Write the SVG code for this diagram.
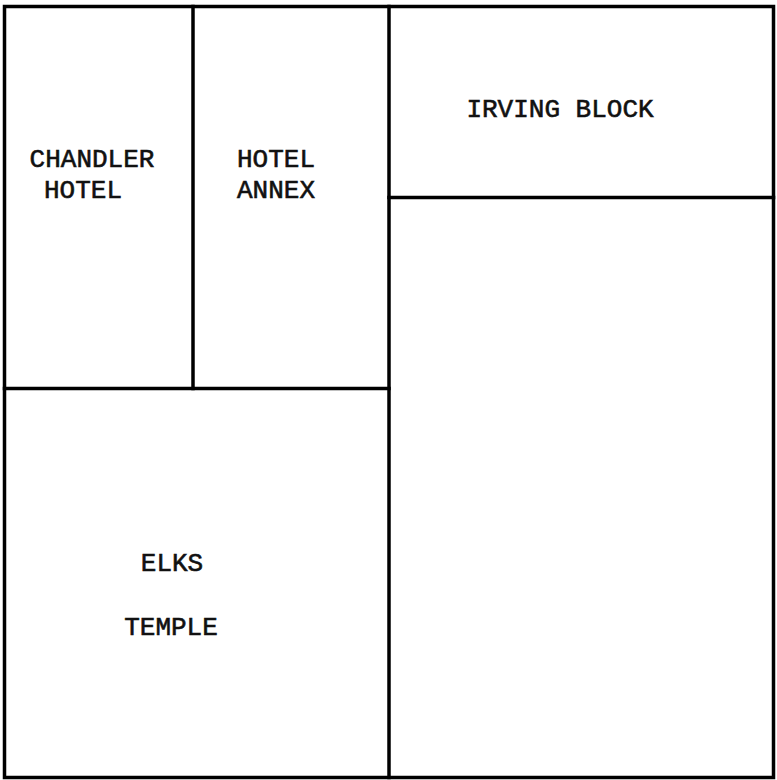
<svg xmlns="http://www.w3.org/2000/svg" width="777" height="780" viewBox="0 0 777 780">
<style>
.w{stroke:#000;stroke-width:3.5;fill:none;stroke-linecap:square}
.t{font-family:"Liberation Mono","Courier New",monospace;font-size:26px;fill:#111;stroke:#111;stroke-width:0.6;text-anchor:middle}
</style>
<rect width="777" height="780" fill="#fff"/>
<g id="walls">
<rect class="w" x="4.5" y="6.5" width="769" height="771"/>
<line class="w" x1="193" y1="6.5" x2="193" y2="388.5"/>
<line class="w" x1="4.5" y1="388.5" x2="389" y2="388.5"/>
<line class="w" x1="389" y1="6.5" x2="389" y2="777.5"/>
<line class="w" x1="389" y1="197.5" x2="773.5" y2="197.5"/>
</g>
<g id="chandler-hotel">
<text class="t" x="92" y="167">CHANDLER</text>
<text class="t" x="83" y="198">HOTEL</text>
</g>
<g id="hotel-annex">
<text class="t" x="276" y="167">HOTEL</text>
<text class="t" x="276" y="198">ANNEX</text>
</g>
<g id="irving-block">
<text class="t" x="560" y="117">IRVING BLOCK</text>
</g>
<g id="elks-temple">
<text class="t" x="172" y="571">ELKS</text>
<text class="t" x="171" y="635">TEMPLE</text>
</g>
</svg>
